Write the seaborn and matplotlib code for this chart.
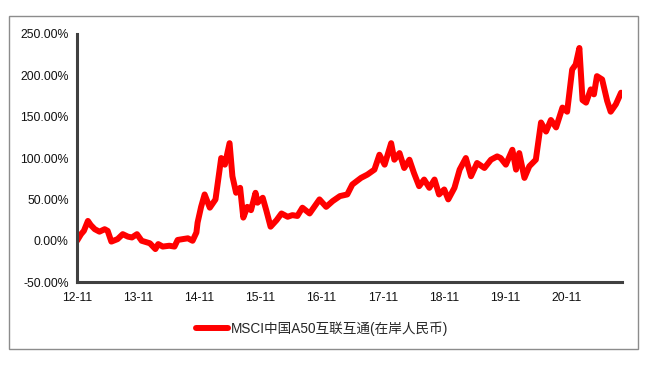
import matplotlib
matplotlib.use("Agg")
import matplotlib.pyplot as plt
import matplotlib.dates as mdates
from matplotlib.patches import Rectangle
from matplotlib.ticker import FuncFormatter
import seaborn as sns
import pandas as pd

# Data (cumulative return, %)
dates = [
    "2012-11-01", "2012-11-25", "2012-12-12", "2013-01-05", "2013-01-22", "2013-02-15",
    "2013-03-15", "2013-04-15", "2013-05-03", "2013-05-25", "2013-07-01", "2013-08-01",
    "2013-09-01", "2013-09-25", "2013-10-25", "2013-11-22", "2014-01-10", "2014-02-12",
    "2014-03-01", "2014-03-28", "2014-05-06", "2014-06-06", "2014-06-25", "2014-07-25",
    "2014-08-25", "2014-09-22", "2014-10-15", "2014-10-22", "2014-11-12", "2014-12-03",
    "2015-01-03", "2015-02-06", "2015-03-12", "2015-04-03", "2015-05-01", "2015-05-18",
    "2015-06-09", "2015-07-03", "2015-07-22", "2015-08-15", "2015-09-06", "2015-10-03",
    "2015-10-15", "2015-11-15", "2015-12-06", "2016-01-01", "2016-02-06", "2016-03-06",
    "2016-04-12", "2016-05-10", "2016-06-09", "2016-07-09", "2016-08-21", "2016-10-19",
    "2016-11-28", "2017-01-06", "2017-02-18", "2017-04-03", "2017-05-03", "2017-06-24",
    "2017-08-01", "2017-09-12", "2017-10-12", "2017-11-12", "2017-12-21", "2018-01-09",
    "2018-02-09", "2018-03-09", "2018-04-09", "2018-05-06", "2018-06-06", "2018-07-06",
    "2018-08-06", "2018-09-06", "2018-10-03", "2018-11-03", "2018-11-27", "2019-01-03",
    "2019-02-03", "2019-03-12", "2019-04-12", "2019-05-18", "2019-07-01", "2019-08-09",
    "2019-09-15", "2019-10-06", "2019-11-06", "2019-12-15", "2020-01-06", "2020-01-25",
    "2020-02-25", "2020-03-25", "2020-05-03", "2020-06-03", "2020-07-03", "2020-08-01",
    "2020-09-01", "2020-10-09", "2020-11-06", "2020-12-06", "2020-12-27", "2021-01-18",
    "2021-02-06", "2021-02-27", "2021-03-27", "2021-04-15", "2021-05-03", "2021-06-03",
    "2021-07-03", "2021-07-24", "2021-08-24", "2021-09-24",
]
returns = [
    0, 8, 12, 24, 19, 14,
    11, 14, 12, -1, 2, 8,
    5, 4, 8, 0, -3, -10,
    -4, -7, -6, -7, 1, 2,
    3, 0, 10, 22, 41, 56,
    40, 50, 100, 92, 118, 78,
    58, 64, 28, 41, 37, 58,
    46, 52, 37, 17, 25, 33,
    29, 31, 30, 40, 33, 50,
    41, 48, 54, 56, 68, 76,
    80, 86, 104, 92, 118, 98,
    106, 88, 98, 82, 66, 74,
    64, 74, 56, 62, 50, 64,
    86, 100, 78, 94, 88, 98,
    102, 100, 92, 110, 86, 106,
    76, 90, 98, 143, 132, 146,
    137, 161, 156, 207, 213, 233,
    170, 167, 183, 177, 199, 195,
    169, 156, 165, 179,
]
series_name = "MSCI中国A50互联互通(在岸人民币)"
tick_dates = ["2012-11-01", "2013-11-01", "2014-11-01", "2015-11-01", "2016-11-01",
              "2017-11-01", "2018-11-01", "2019-11-01", "2020-11-01"]

df = pd.DataFrame({"date": pd.to_datetime(dates), "ret": returns, "name": series_name})

sns.set_style("white")
plt.rcParams["font.family"] = ["Liberation Sans", "Noto Sans CJK SC", "DejaVu Sans"]

fig = plt.figure(figsize=(6.5, 3.65), dpi=100)
ax = fig.add_axes([0.1185, 0.227, 0.838, 0.68])

sns.lineplot(data=df, x="date", y="ret", hue="name", palette=["#ff0000"],
             linewidth=4.3, ax=ax)

ax.set_ylim(-50, 250)
ax.set_yticks(range(-50, 251, 50))
ax.yaxis.set_major_formatter(FuncFormatter(lambda v, p: "%.2f%%" % v))
ax.set_xlim(pd.Timestamp("2012-11-01"), pd.Timestamp("2021-09-28"))
ax.set_xticks(pd.to_datetime(tick_dates))
ax.xaxis.set_major_formatter(mdates.DateFormatter("%y-%m"))
ax.set_xlabel("")
ax.set_ylabel("")

for side in ["top", "right"]:
    ax.spines[side].set_visible(False)
for side in ["left", "bottom"]:
    ax.spines[side].set_color("#404040")
    ax.spines[side].set_linewidth(2.2)
ax.tick_params(axis="both", direction="out", length=4, width=2, color="#404040",
               labelsize=8.8, labelcolor="#111111", pad=2)
ax.tick_params(axis="x", pad=3)

ax.legend(loc="upper center", bbox_to_anchor=(0.45, -0.11), frameon=False,
          fontsize=9.8, handlelength=2.4, handletextpad=0.2)

# outer grey frame
fig.patches.append(Rectangle((9 / 650, 1 - 349 / 365), 629 / 650, 333 / 365,
                             transform=fig.transFigure, fill=False,
                             edgecolor="#8c8c8c", linewidth=1))

fig.savefig("out.png", dpi=100)
